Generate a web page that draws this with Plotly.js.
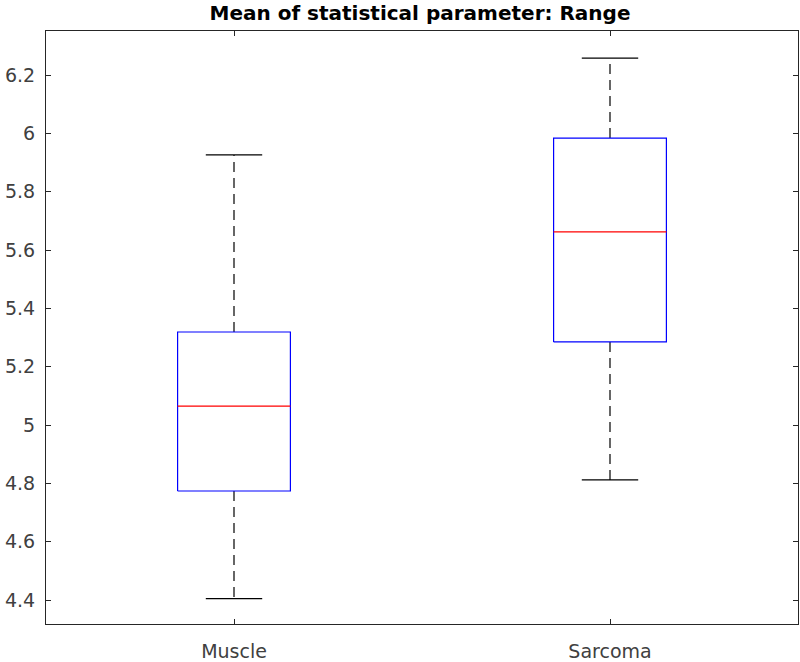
<!DOCTYPE html>
<html>
<head>
<meta charset="utf-8">
<script src="https://cdn.plot.ly/plotly-3.0.1.min.js"></script>
<style>
  html, body { margin: 0; padding: 0; background: #fff; }
  #chart { width: 800px; height: 662px; }
</style>
</head>
<body>
<div id="chart"></div>
<script>
// Box statistics (MATLAB-style boxplot)
const categories = ["Muscle", "Sarcoma"];
const positions = [1, 2];
const lowerWhisker = [4.405, 4.812];
const q1 = [4.774, 5.285];
const median = [5.065, 5.662];
const q3 = [5.319, 5.984];
const upperWhisker = [5.926, 6.258];

const yTicks = [4.4, 4.6, 4.8, 5, 5.2, 5.4, 5.6, 5.8, 6, 6.2];

const BOX_HALF = 0.15;
const CAP_HALF = 0.075;
const AXIS_COLOR = "#262626";
const FONT = "DejaVu Sans, Arial, sans-serif";

const traces = [];

positions.forEach((x, i) => {
  // upper and lower whiskers (dashed)
  traces.push({
    x: [x, x, null, x, x],
    y: [q3[i], upperWhisker[i], null, q1[i], lowerWhisker[i]],
    type: "scatter",
    mode: "lines",
    line: { color: "#000", width: 1.2, dash: "10px,6px" },
    hoverinfo: "skip",
    showlegend: false,
  });
  // whisker caps
  traces.push({
    x: [x - CAP_HALF, x + CAP_HALF, null, x - CAP_HALF, x + CAP_HALF],
    y: [upperWhisker[i], upperWhisker[i], null, lowerWhisker[i], lowerWhisker[i]],
    type: "scatter",
    mode: "lines",
    line: { color: "#000", width: 1.2 },
    hoverinfo: "skip",
    showlegend: false,
  });
  // box
  traces.push({
    x: [x - BOX_HALF, x + BOX_HALF, x + BOX_HALF, x - BOX_HALF, x - BOX_HALF],
    y: [q1[i], q1[i], q3[i], q3[i], q1[i]],
    type: "scatter",
    mode: "lines",
    line: { color: "#0000ff", width: 1.2 },
    name: categories[i],
    showlegend: false,
  });
  // median
  traces.push({
    x: [x - BOX_HALF, x + BOX_HALF],
    y: [median[i], median[i]],
    type: "scatter",
    mode: "lines",
    line: { color: "#ff0000", width: 1.2 },
    hoverinfo: "skip",
    showlegend: false,
  });
});

const layout = {
  width: 800,
  height: 662,
  margin: { l: 46, r: 2, t: 31, b: 38 },
  paper_bgcolor: "#fff",
  plot_bgcolor: "#fff",
  showlegend: false,
  title: {
    text: "<b>Mean of statistical parameter: Range</b>",
    x: 0.525,
    xanchor: "center",
    y: 0.981,
    yanchor: "middle",
    font: { family: FONT, size: 20, color: "#000" },
  },
  xaxis: {
    range: [0.5, 2.5],
    tickvals: positions,
    ticktext: categories,
    ticks: "inside",
    ticklen: 5,
    tickcolor: AXIS_COLOR,
    ticklabelstandoff: 10,
    showgrid: false,
    zeroline: false,
    showline: true,
    linecolor: AXIS_COLOR,
    linewidth: 1,
    mirror: "ticks",
    tickfont: { family: FONT, size: 19, color: "#404040" },
  },
  yaxis: {
    range: [4.318, 6.351],
    tickvals: yTicks,
    ticktext: yTicks.map((v) => String(v)),
    ticks: "inside",
    ticklen: 5,
    tickcolor: AXIS_COLOR,
    ticklabelstandoff: 6,
    showgrid: false,
    zeroline: false,
    showline: true,
    linecolor: AXIS_COLOR,
    linewidth: 1,
    mirror: "ticks",
    tickfont: { family: FONT, size: 19, color: "#404040" },
  },
};

Plotly.newPlot("chart", traces, layout, { staticPlot: true, displayModeBar: false });
</script>
</body>
</html>
